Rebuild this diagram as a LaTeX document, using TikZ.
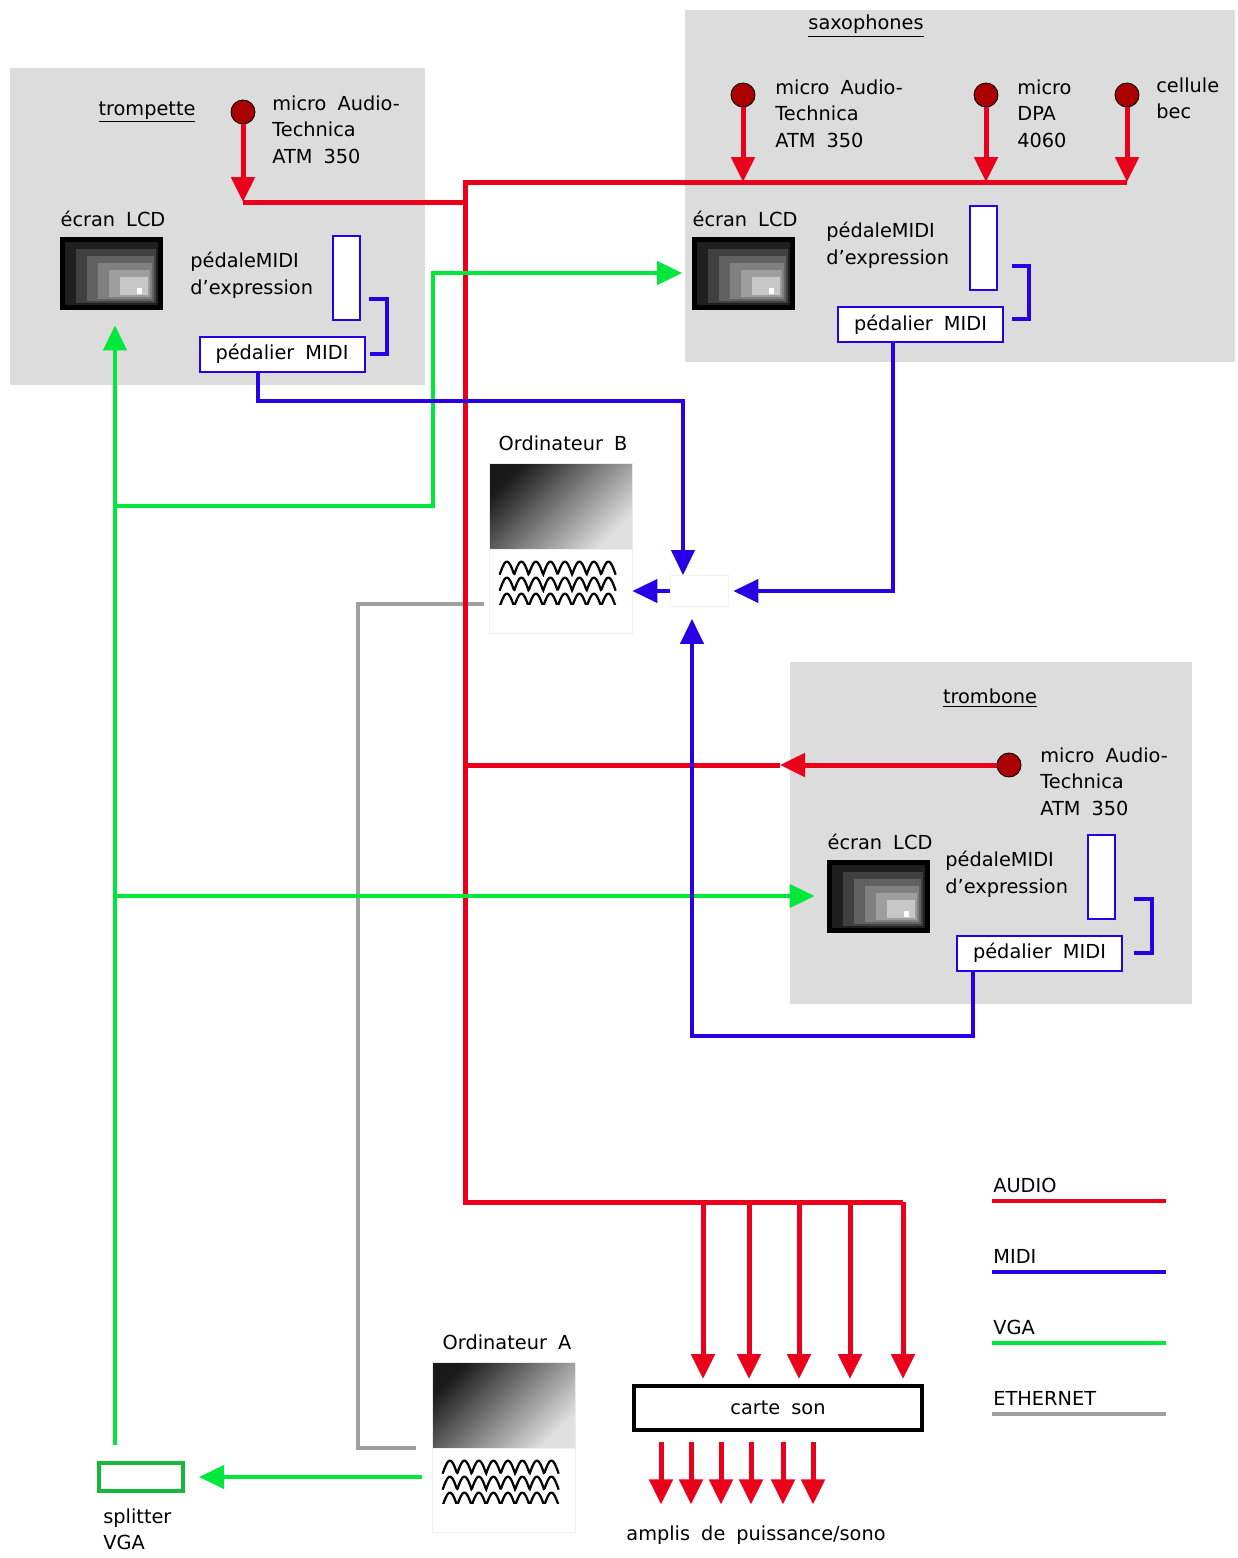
\documentclass[tikz,border=0pt]{standalone}
\usepackage{fontspec}
\setmainfont{DejaVu Sans}[WordSpace=1.8]
\usetikzlibrary{positioning}
\usetikzlibrary{arrows.meta}
\usetikzlibrary{fit}

\definecolor{audiored}{RGB}{235,0,27}
\definecolor{midiblue}{RGB}{40,0,230}
\definecolor{vgagreen}{RGB}{0,232,60}
\definecolor{splitgreen}{RGB}{20,185,60}
\definecolor{ethgray}{RGB}{160,160,160}
\definecolor{zonegray}{RGB}{220,220,220}
\definecolor{micred}{RGB}{170,0,0}

\begin{document}
\begin{tikzpicture}[x=0.2mm, y=-0.2mm, font=\fontsize{11}{15.3}\selectfont,
    zone/.style={fill=zonegray, inner sep=0},
    mic/.style={circle, draw=black, line width=0.5pt, fill=micred, minimum size=4.8mm, inner sep=0},
    lbl/.style={align=left, anchor=north west, inner sep=0},
    expr/.style={draw=midiblue, line width=0.4mm, fill=white, minimum width=5.4mm, minimum height=16.8mm, inner sep=0},
    pedalier/.style={draw=midiblue, line width=0.4mm, fill=white, minimum width=33mm, minimum height=7mm, inner sep=0},
    lcd/.style={draw=black, fill=black, minimum width=20.4mm, minimum height=14.4mm, inner sep=0},
    ecran/.style={draw=black!8, inner sep=0, minimum width=28.6mm, minimum height=17.2mm,
      top color=black!90, bottom color=black!12, shading angle=45},
    unite/.style={draw=black!6, fill=white, inner sep=0, minimum width=28.6mm, minimum height=16.8mm},
    audio/.style={draw=audiored, line width=1mm},
    midi/.style={draw=midiblue, line width=0.8mm},
    vga/.style={draw=vgagreen, line width=0.8mm},
    eth/.style={draw=ethgray, line width=0.8mm},
    tip/.style={-{Triangle[length=5mm, width=4.6mm]}}]

\useasboundingbox (0,0) rectangle (1237,1558);

% zones
\node[zone, fit={(10,68) (425,385)}] (trpbox) {};
\node[zone, fit={(685,10) (1235,362)}] (saxbox) {};
\node[zone, fit={(790,662) (1192,1004)}] (trbbox) {};
\node (trptitre) at (147,112) {\underline{trompette}};
\node (saxtitre) at (866,26) {\underline{saxophones}};
\node (trbtitre) at (990,698) {\underline{trombone}};

% trompette
\node[mic] (trpmic) at (243,112) {};
\node[lbl] (trpmiclbl) at (272,95) {micro Audio-\\Technica\\ATM 350};
\node[lcd] (trplcd) at (111,273) {};
\node (trplcdlbl) at (113,219) {écran LCD};
\node[lbl] (trpexplbl) at (190,252) {pédaleMIDI\\d’expression};
\node[expr] (trpexp) at (346.5,278) {};
\node[pedalier] (trppedal) at (282,354) {pédalier MIDI};

% saxophones
\node[mic] (saxmicA) at (743,95) {};
\node[lbl] (saxmicAlbl) at (775,79) {micro Audio-\\Technica\\ATM 350};
\node[mic] (saxmicB) at (986,95) {};
\node[lbl] (saxmicBlbl) at (1017,79) {micro\\DPA\\4060};
\node[mic] (saxcell) at (1127,95) {};
\node[lbl] (saxcelllbl) at (1156,77) {cellule\\bec};
\node[lcd] (saxlcd) at (743.5,273) {};
\node (saxlcdlbl) at (745,219) {écran LCD};
\node[lbl] (saxexplbl) at (826,222) {pédaleMIDI\\d’expression};
\node[expr] (saxexp) at (983,248) {};
\node[pedalier] (saxpedal) at (920.5,324.5) {pédalier MIDI};

% trombone
\node[mic] (trbmic) at (1009,765) {};
\node[lbl] (trbmiclbl) at (1040,747) {micro Audio-\\Technica\\ATM 350};
\node[lcd] (trblcd) at (878,896) {};
\node (trblcdlbl) at (880,842) {écran LCD};
\node[lbl] (trbexplbl) at (945,851) {pédaleMIDI\\d’expression};
\node[expr] (trbexp) at (1101.5,876.5) {};
\node[pedalier] (trbpedal) at (1039.5,953) {pédalier MIDI};

% ordinateurs
\node[ecran] (ordiBscr) at (560.5,506) {};
\node[unite] (ordiB) at (560.5,591) {};
\node (ordiBlbl) at (563,443) {Ordinateur B};
\node[ecran] (ordiAscr) at (503.5,1405) {};
\node[unite] (ordiA) at (503.5,1490) {};
\node (ordiAlbl) at (507,1342) {Ordinateur A};
\node[draw=black!5, minimum width=11.6mm, minimum height=6.2mm, inner sep=0] (hub) at (699,591) {};

% dessin des ecrans LCD
\foreach \n in {trplcd,saxlcd,trblcd} {
  \begin{scope}[shift={(\n.north west)}]
    \foreach \i/\g in {1/88,2/75,3/62,4/50,5/38,6/22}
      \fill[black!\g] ({5+11*(\i-1)},{5+7*(\i-1)}) rectangle ({98-2*(\i-1)},{68-2*(\i-1)});
    \fill[white] (77,51) rectangle (82,57);
  \end{scope}
}
% ondes des unites centrales
\foreach \n in {ordiA,ordiB} {
  \begin{scope}[shift={(\n.north west)}]
    \clip (0,0) rectangle (143,56);
    \foreach \r in {0,1,2}
      \draw[line width=0.45mm] plot[domain=0:116, samples=150] ({11+\x},{13+16*\r+13*(1-abs(sin(\x/14.5*180)))});
  \end{scope}
}

% carte son, splitter
\node[draw=black, line width=0.8mm, minimum width=57.6mm, minimum height=8.8mm, inner sep=0] (carte) at (778,1408) {carte son};
\node (amplis) at (756,1535) {amplis de puissance/sono};
\node[draw=splitgreen, line width=0.8mm, minimum width=16.8mm, minimum height=5.6mm, inner sep=0] (splitter) at (141,1477) {};
\node[lbl] (splitterlbl) at (103,1508) {splitter\\VGA};

% points de jonction
\coordinate (trpJ) at (243,202);
\coordinate (trpK) at (465,202);
\coordinate (busT) at (465,182);
\coordinate (busB) at (465,1202);
\coordinate (busE) at (903,1202);
\coordinate (trbA) at (780,765);
\coordinate (trbJ) at (465,765);
\coordinate (vgaS) at (115,1445);
\coordinate (vga1) at (433,506);
\coordinate (mA) at (258,401);
\coordinate (mB) at (683,401);
\coordinate (mC) at (893,591);
\coordinate (mD) at (973,1036);
\coordinate (mE) at (692,1036);
\coordinate (eB) at (358,604);
\coordinate (eA) at (358,1448);

% ethernet
\draw[eth, shorten <=1mm, shorten >=3.2mm] (ordiB.west |- eB) -- (eB) -- (eA) -- (eA -| ordiA.west);

% audio
\draw[audio,tip] (trpmic.south) -- (trpJ);
\draw[audio] (trpJ) -- (trpK);
\draw[audio,tip] (saxmicA.south) -- (saxmicA |- busT);
\draw[audio,tip] (saxmicB.south) -- (saxmicB |- busT);
\draw[audio,tip] (saxcell.south) -- (saxcell |- busT);
\draw[audio] (saxcell |- busT) -- (busT) -- (busB) -- (busE);
\draw[audio,tip] (trbmic.west) -- (trbA);
\draw[audio] (trbA) -- (trbJ);
\foreach \x in {703,749,799,850,903}
  \draw[audio,tip,shorten >=1mm] (\x,0 |- busE) -- (\x,0 |- carte.north);
\foreach \x in {661,691,721,751,783,813}
  \draw[audio,tip,shorten <=2mm,shorten >=3mm] (\x,0 |- carte.south) -- (\x,0 |- amplis.north);

% VGA
\draw[vga,tip,shorten >=3.2mm] (vgaS) -- (vgaS |- trplcd.south);
\draw[vga,tip,shorten >=2mm] (vgaS |- vga1) -- (vga1) |- (saxlcd.west);
\draw[vga,tip,shorten >=2.4mm] (vgaS |- trblcd) -- (trblcd.west);
\draw[vga,tip,shorten <=2mm,shorten >=2.8mm] (ordiA.west |- splitter) -- (splitter.east);

% MIDI
\draw[midi,tip] (mA |- trppedal.south) -- (mA) -- (mB) -- (mB |- hub.north);
\draw[midi,tip,shorten >=1mm] (mC |- saxpedal.south) -- (mC) -- (hub.east);
\draw[midi,tip,shorten >=2.4mm] (mD |- trbpedal.south) -- (mD) -- (mE) -- (mE |- hub.south);
\draw[midi,tip] (hub.west) -- (ordiB.east |- hub.west);
\draw[midi] ([shift={(8,21)}]trpexp.east) -- ++(18,0) |- ([shift={(4,0)}]trppedal.east);
\draw[midi] ([shift={(14,18)}]saxexp.east) -- ++(17,0) |- ([shift={(8,-6)}]saxpedal.east);
\draw[midi] ([shift={(18,22)}]trbexp.east) -- ++(18,0) |- ([shift={(11,0)}]trbpedal.east);

% legende
\foreach \t/\s [count=\i from 0] in {AUDIO/audio, MIDI/midi, VGA/vga, ETHERNET/eth} {
  \node[anchor=west, inner sep=0] (leg\t) at (993,{1185+71*\i}) {\t};
  \draw[\s, line width=0.8mm] (992,{1201+71*\i}) -- (1166,{1201+71*\i});
}
\end{tikzpicture}
\end{document}
